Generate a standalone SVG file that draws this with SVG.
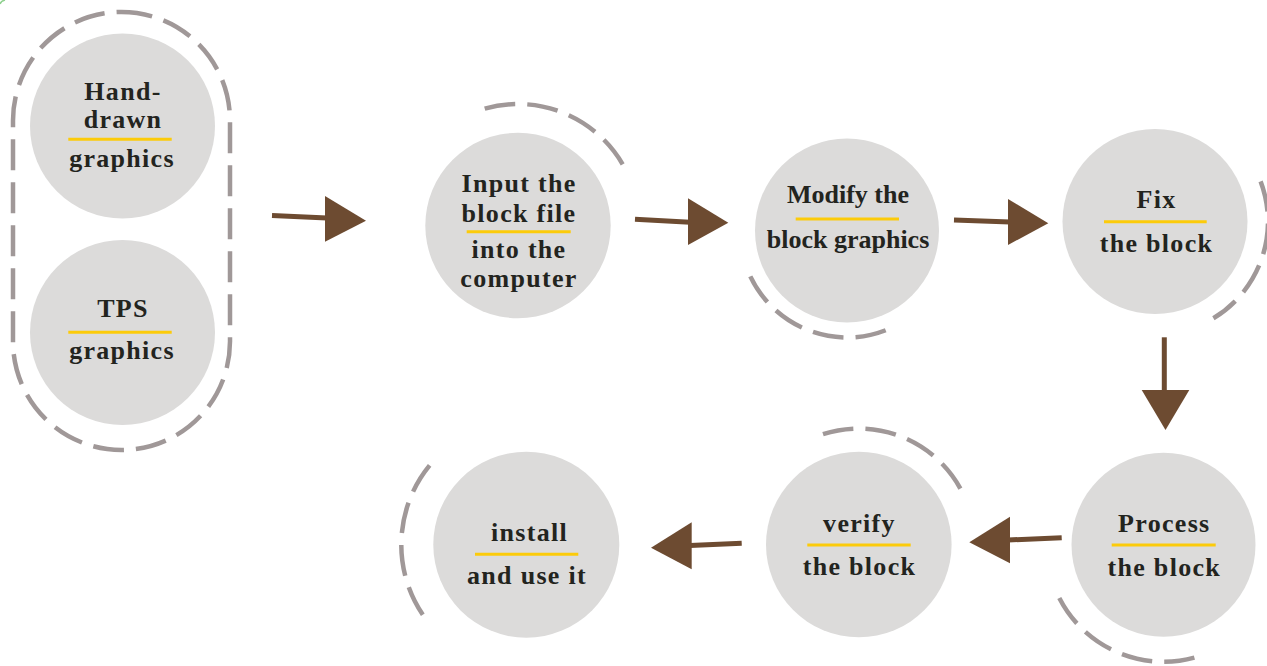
<svg xmlns="http://www.w3.org/2000/svg" width="1267" height="666" viewBox="0 0 1267 666">
<style>
.c{fill:#dcdbda}
.d{fill:none;stroke:#a09898;stroke-width:4.5;stroke-dasharray:31 12}
.y{stroke:#fccb0a;stroke-width:3}
.t{font-family:"Liberation Serif","Times New Roman",serif;font-weight:bold;font-size:26px;fill:#23241e;text-anchor:middle;letter-spacing:1.3px}
.n{letter-spacing:0}
.a{stroke:#6d4b31;stroke-width:5;fill:none}
.h{fill:#6d4b31}
</style>
<rect width="1267" height="666" fill="#ffffff"/>
<path d="M0,4 Q1,1 5,0" fill="none" stroke="#8fd18f" stroke-width="1.5"/>
<g id="group-left">
<rect class="d" x="13" y="12" width="217" height="438" rx="108.5" ry="108.5"/>
</g>
<g id="node-handdrawn">
<circle class="c" cx="122.5" cy="126" r="92.5"/>
<text class="t" x="123" y="100">Hand-</text>
<text class="t" x="123" y="128">drawn</text>
<line class="y" x1="68.3" y1="139.3" x2="171.7" y2="139.3"/>
<text class="t" x="122" y="166.7">graphics</text>
</g>
<g id="node-tps">
<circle class="c" cx="122.5" cy="332.5" r="92.5"/>
<text class="t" x="123" y="317">TPS</text>
<line class="y" x1="68.3" y1="332.3" x2="171.7" y2="332.3"/>
<text class="t" x="122" y="359">graphics</text>
</g>
<g id="node-input">
<path class="d" d="M484.7,108.7 A121,121 0 0 1 622.8,164.5"/>
<circle class="c" cx="518" cy="225.5" r="92.7"/>
<text class="t" x="519" y="191.7">Input the</text>
<text class="t" x="519" y="221.7">block file</text>
<line class="y" x1="466.7" y1="231.7" x2="570.7" y2="231.7"/>
<text class="t" x="519" y="258.3">into the</text>
<text class="t" x="519" y="286.7">computer</text>
</g>
<g id="node-modify">
<path class="d" d="M750.3,276.4 A107,107 0 0 0 887.8,329.4"/>
<circle class="c" cx="847" cy="230.5" r="92"/>
<text class="t n" x="848" y="203.3">Modify the</text>
<line class="y" x1="795.7" y1="219" x2="899" y2="219"/>
<text class="t n" x="848" y="248.3">block graphics</text>
</g>
<g id="node-fix">
<path class="d" d="M1260.6,181.4 A113,113 0 0 1 1213.4,318.3"/>
<circle class="c" cx="1155" cy="221.5" r="92.5"/>
<text class="t" x="1156.5" y="208.3">Fix</text>
<line class="y" x1="1104" y1="221.7" x2="1206.7" y2="221.7"/>
<text class="t" x="1156.5" y="251.7">the block</text>
</g>
<g id="node-process">
<path class="d" d="M1059.3,598 A117,117 0 0 0 1194.4,657.6"/>
<circle class="c" cx="1163.5" cy="544.7" r="92"/>
<text class="t" x="1164.3" y="531.7">Process</text>
<line class="y" x1="1111.7" y1="545" x2="1215.7" y2="545"/>
<text class="t" x="1164.3" y="576">the block</text>
</g>
<g id="node-verify">
<path class="d" d="M823,434.2 A116,116 0 0 1 960.5,488.8"/>
<circle class="c" cx="858.8" cy="544.5" r="92.8"/>
<text class="t" x="859.5" y="531.7">verify</text>
<line class="y" x1="807.3" y1="545" x2="910.7" y2="545"/>
<text class="t" x="859.5" y="575">the block</text>
</g>
<g id="node-install">
<path class="d" d="M422.8,614.8 A125,125 0 0 1 433.8,460.6"/>
<circle class="c" cx="526.3" cy="544.7" r="93"/>
<text class="t" x="529.5" y="540.7">install</text>
<text class="t" x="527" y="584">and use it</text>
<line class="y" x1="475" y1="554.3" x2="578.3" y2="554.3"/>
</g>
<g id="connectors">
<line class="a" x1="272" y1="215.5" x2="327" y2="218"/>
<polygon class="h" points="325,196 366,220.7 325,241.7"/>
<line class="a" x1="635" y1="219.3" x2="690" y2="222.3"/>
<polygon class="h" points="688,198.3 728.3,222.7 688,245"/>
<line class="a" x1="954" y1="220" x2="1010" y2="222"/>
<polygon class="h" points="1008,199 1048.3,223.3 1008,245"/>
<line class="a" x1="1164.3" y1="337.3" x2="1164.3" y2="392"/>
<polygon class="h" points="1141.7,390 1189.3,390 1165.5,430"/>
<line class="a" x1="1061.7" y1="537.7" x2="1008" y2="540"/>
<polygon class="h" points="1010,516.7 969.3,542.3 1010,563.3"/>
<line class="a" x1="741.7" y1="543.3" x2="690" y2="545.5"/>
<polygon class="h" points="691.7,522.3 651,547.7 691.7,569.3"/>
</g>
</svg>
